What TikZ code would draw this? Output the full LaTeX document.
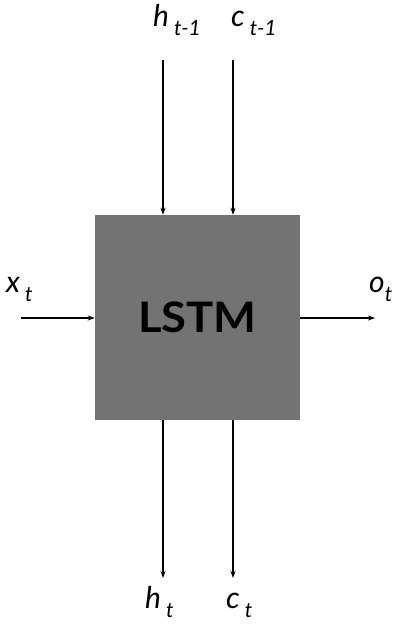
\documentclass[tikz,border=0pt]{standalone}
\usepackage{fontspec}
\setmainfont{Lato}
\usetikzlibrary{arrows.meta}

% subscript label: letter with a lowered index
\newcommand{\lbsub}[2]{#1\,\raisebox{-0.32em}{\fontsize{21}{22}\selectfont #2}}

\tikzset{
  cell/.style={fill=black!55, minimum width=205pt, minimum height=205pt, inner sep=0pt,
    font=\fontsize{42}{44}\selectfont\bfseries},
  lbl/.style={font=\fontsize{30}{33}\selectfont\itshape, inner sep=0pt, anchor=base west},
  flow/.style={-{Stealth[length=7pt,width=5pt]}, line width=1.2pt}
}

\begin{document}
\begin{tikzpicture}[x=1pt,y=-1pt]
\useasboundingbox (0,0) rectangle (394,637);

% LSTM cell
\node[cell] (lstm) at (197.5,317.5) {\scalebox{1.08}[1]{LSTM}};

% free ends of the connectors
\coordinate (hin)  at (163,60);
\coordinate (cin)  at (233,60);
\coordinate (xin)  at (21,318);
\coordinate (oout) at (375,318);
\coordinate (hout) at (163,578);
\coordinate (cout) at (233,578);

% inputs
\draw[flow] (hin) -- (hin |- lstm.north);
\draw[flow] (cin) -- (cin |- lstm.north);
\draw[flow] (xin) -- (xin -| lstm.west);

% outputs
\draw[flow] (oout -| lstm.east) -- (oout);
\draw[flow] (hout |- lstm.south) -- (hout);
\draw[flow] (cout |- lstm.south) -- (cout);

% Labels
\node[lbl] (hprev) at (153,26)  {\lbsub{h}{t-1}};
\node[lbl] (cprev) at (231,26)  {\lbsub{c}{t-1}};
\node[lbl] (xlbl)  at (6,292)   {\lbsub{x}{t}};
\node[lbl] (olbl)  at (369,292) {o\raisebox{-0.32em}{\fontsize{21}{22}\selectfont t}};
\node[lbl] (hlbl)  at (145,608) {\lbsub{h}{t}};
\node[lbl] (clbl)  at (226,608) {\lbsub{c}{t}};

\end{tikzpicture}
\end{document}
